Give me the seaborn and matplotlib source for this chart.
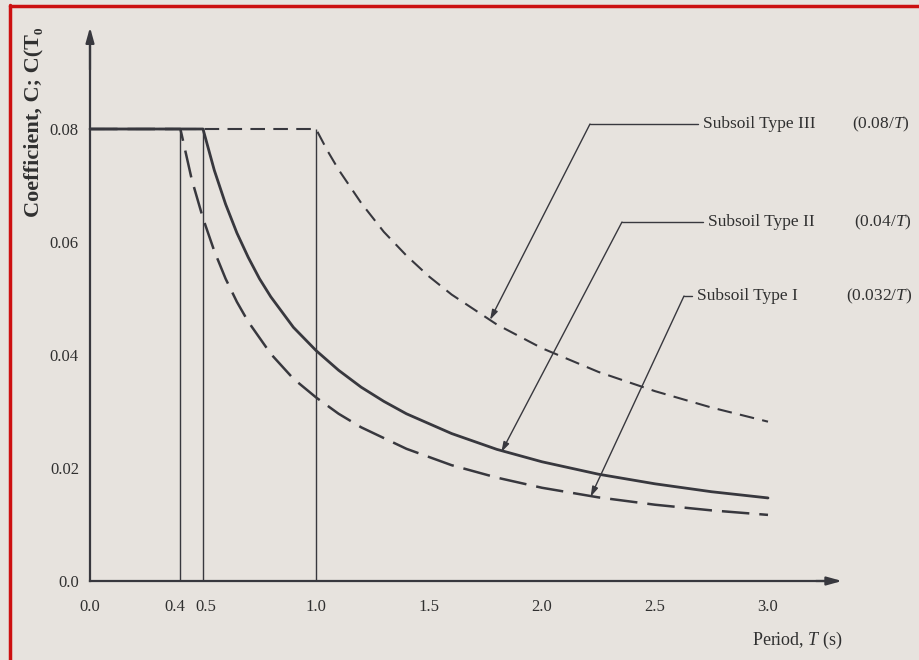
import matplotlib
matplotlib.use("Agg")
import matplotlib.pyplot as plt
from matplotlib.lines import Line2D
import matplotlib.transforms as mtransforms
import seaborn as sns

# ---------------- data ----------------
T_I = [0.0, 0.4, 0.45, 0.5, 0.55, 0.6, 0.65, 0.7, 0.8, 0.9, 1.0, 1.1, 1.2, 1.4, 1.6, 1.8, 2.0, 2.25, 2.5, 2.75, 3.0]
C_I = [0.08, 0.08, 0.0711, 0.0642, 0.0584, 0.0535, 0.0494, 0.0459, 0.0402, 0.0358, 0.0325, 0.0296, 0.0272, 0.0234, 0.0205, 0.0183, 0.0165, 0.0148, 0.0135, 0.0125, 0.0117]

T_II = [0.0, 0.5, 0.55, 0.6, 0.65, 0.7, 0.75, 0.8, 0.9, 1.0, 1.1, 1.2, 1.3, 1.4, 1.6, 1.8, 2.0, 2.25, 2.5, 2.75, 3.0]
C_II = [0.08, 0.08, 0.0727, 0.0667, 0.0616, 0.0573, 0.0535, 0.0503, 0.0449, 0.0408, 0.0373, 0.0343, 0.0318, 0.0296, 0.0261, 0.0233, 0.0211, 0.0189, 0.0172, 0.0158, 0.0147]

T_III = [0.0, 1.0, 1.05, 1.1, 1.2, 1.3, 1.4, 1.5, 1.6, 1.8, 2.0, 2.25, 2.5, 2.75, 3.0]
C_III = [0.08, 0.08, 0.0762, 0.0728, 0.0669, 0.0618, 0.0576, 0.0539, 0.0507, 0.0454, 0.0412, 0.0370, 0.0336, 0.0307, 0.0282]

corner_T = [0.4, 0.5, 1.0]
x_ticks = [0.0, 0.4, 0.5, 1.0, 1.5, 2.0, 2.5, 3.0]
x_labels = ["0.0", "0.4", "0.5", "1.0", "1.5", "2.0", "2.5", "3.0"]
y_ticks = [0.0, 0.02, 0.04, 0.06, 0.08]
y_labels = ["0.0", "0.02", "0.04", "0.06", "0.08"]

series_names = ["Subsoil Type III", "Subsoil Type II", "Subsoil Type I"]
series_formulas = ["(0.08/$T$)", "(0.04/$T$)", "(0.032/$T$)"]

# ---------------- style ----------------
sns.set_style("white")
plt.rcParams["font.family"] = ["Liberation Serif", "DejaVu Serif"]
plt.rcParams["mathtext.fontset"] = "custom"
plt.rcParams["mathtext.rm"] = "Liberation Serif"
plt.rcParams["mathtext.it"] = "Liberation Serif:italic"
plt.rcParams["mathtext.bf"] = "Liberation Serif:bold"

paper = "#e7e3de"
ink = "#38383e"
txt = "#303030"

W, H = 920, 660
fig = plt.figure(figsize=(W / 100, H / 100), dpi=100, facecolor=paper)
ax = fig.add_axes([0, 0, 1, 1])
ax.set_facecolor(paper)

# pixel mapping: T=0 at x=90px, 226 px per unit; C=0 at y=581px, 113 px per 0.02
x0, sx = 90.0, 226.0
y0, sy = 581.0, 113.0 / 0.02
ax.set_xlim(-x0 / sx, (W - x0) / sx)
ax.set_ylim(-(H - y0) / sy, y0 / sy)

# curves
sns.lineplot(x=T_III, y=C_III, ax=ax, color=ink, lw=1.5, estimator=None, sort=False,
             linestyle=(0, (7, 4)))
sns.lineplot(x=T_II, y=C_II, ax=ax, color=ink, lw=2.0, estimator=None, sort=False)
sns.lineplot(x=T_I, y=C_I, ax=ax, color=ink, lw=1.8, estimator=None, sort=False,
             linestyle=(0, (11, 4)))

# thin vertical guide lines
ax.vlines(corner_T, 0, 0.08, color=ink, lw=1.0)

# axes as spines through origin
for s in ["top", "right"]:
    ax.spines[s].set_visible(False)
ax.spines["left"].set_position(("data", 0))
ax.spines["bottom"].set_position(("data", 0))
ax.spines["left"].set_bounds(0, 0.096)
ax.spines["bottom"].set_bounds(0, 3.3)
for s in ["left", "bottom"]:
    ax.spines[s].set_color(ink)
    ax.spines[s].set_linewidth(1.6)

# arrow heads
ax.annotate("", xy=(0, 0.0985), xytext=(0, 0.09),
            arrowprops=dict(arrowstyle="-|>,head_length=0.9,head_width=0.25", color=ink, lw=1.6))
ax.annotate("", xy=(3.34, 0), xytext=(3.2, 0),
            arrowprops=dict(arrowstyle="-|>,head_length=0.9,head_width=0.25", color=ink, lw=1.6))

ax.set_xticks(x_ticks)
ax.set_xticklabels(x_labels)
ax.set_yticks(y_ticks)
ax.set_yticklabels(y_labels)
ax.tick_params(axis="x", direction="inout", length=6, width=1, color=ink,
               labelsize=12, labelcolor=txt, pad=10)
ax.tick_params(axis="y", direction="out", length=5, width=1, color=ink,
               labelsize=12, labelcolor=txt, pad=3)
# nudge the crowded 0.4 / 0.5 labels apart
xl = ax.get_xticklabels()
xl[1].set_transform(xl[1].get_transform() + mtransforms.ScaledTranslation(-6 / 100, 0, fig.dpi_scale_trans))
xl[2].set_transform(xl[2].get_transform() + mtransforms.ScaledTranslation(3 / 100, 0, fig.dpi_scale_trans))

# axis titles
ax.text((33 - x0) / sx, (y0 - 122) / sy, "Coefficient, C; C(T\u2080",
        rotation=90, ha="center", va="center", fontsize=16, fontweight="bold",
        color=txt)
ax.text((752 - x0) / sx, (y0 - 640) / sy, "Period, $T$ (s)", ha="left", va="center",
        fontsize=13, color=txt)

# leader annotations
label_y_px = [124, 222, 296]
name_x_px = [703, 708, 697]
form_x_px = [852, 854, 846]
tips = [(1.77, 0.0462), (1.82, 0.0228), (2.215, 0.0149)]
corner_px = [590, 622, 684]
for name, form, ly, nx, fx, tip, cx in zip(series_names, series_formulas, label_y_px,
                                          name_x_px, form_x_px, tips, corner_px):
    yd = (y0 - ly) / sy
    ax.text((nx - x0) / sx, yd, name, ha="left", va="center", fontsize=12.5, color=txt)
    ax.text((fx - x0) / sx, yd, form, ha="left", va="center", fontsize=12.5, color=txt)
    sxd = (nx - 5 - x0) / sx
    cxd = (cx - x0) / sx
    ax.plot([sxd, cxd], [yd, yd], color=ink, lw=1.0)
    ax.annotate("", xy=tip, xytext=(cxd, yd),
                arrowprops=dict(arrowstyle="-|>,head_length=0.6,head_width=0.18",
                                color=ink, lw=1.0, shrinkA=0, shrinkB=0))

# red frame (left and top)
fig.add_artist(Line2D([10 / W, 10 / W], [0, 1 - 5 / H], color="#cc1010", lw=2.5,
                      transform=fig.transFigure))
fig.add_artist(Line2D([10 / W, 1], [1 - 6 / H, 1 - 6 / H], color="#cc1010", lw=2.5,
                      transform=fig.transFigure))

fig.savefig("out.png", dpi=100, facecolor=paper)
